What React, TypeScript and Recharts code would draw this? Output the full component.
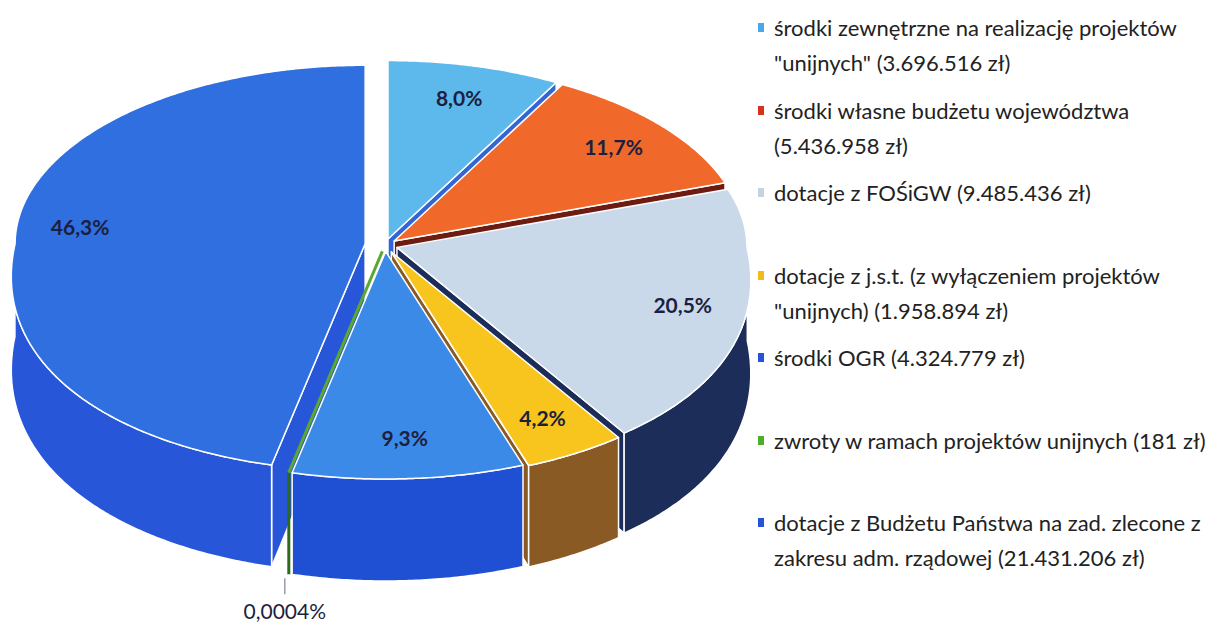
import { Legend, Pie, PieChart } from 'recharts';

const categories = [
  'środki zewnętrzne na realizację projektów "unijnych" (3.696.516 zł)',
  'środki własne budżetu województwa (5.436.958 zł)',
  'dotacje z FOŚiGW (9.485.436 zł)',
  'dotacje z j.s.t. (z wyłączeniem projektów "unijnych) (1.958.894 zł)',
  'środki OGR (4.324.779 zł)',
  'zwroty w ramach projektów unijnych (181 zł)',
  'dotacje z Budżetu Państwa na zad. zlecone z zakresu adm. rządowej (21.431.206 zł)',
];
const amounts = [3696516, 5436958, 9485436, 1958894, 4324779, 181, 21431206];

const topColors = ['#5db8ec', '#f0682a', '#cad9ea', '#f7c51e', '#3c8ae8', '#5aa832', '#2f6fe0'];
const sideColors = ['#3266d6', '#6e1c12', '#1d2d5a', '#8a5a24', '#1f4fd2', '#2d6a18', '#2757d8'];
const legendColors = ['#4aa8e8', '#d8321c', '#c4d2e2', '#f4b81a', '#2452d8', '#4caf2a', '#2452d8'];
const explode = [12, 12, 12, 12, 10, 10, 20];

const data = amounts.map((value, idx) => ({ name: categories[idx], value, idx, fill: topColors[idx] }));

// fake 3D: squashed ellipse, front a bit wider/deeper
const CX = 385;
const CY = 245;
const R = 350;
const K_UP = 0.51;
const K_DOWN = 0.65;
const SPREAD = 0.15;

const rad = (d: number) => (d * Math.PI) / 180;

function proj(r: number, deg: number): [number, number] {
  const s = Math.sin(rad(deg));
  const c = Math.cos(rad(deg));
  const front = s < 0 ? -s : 0;
  return [r * c * (1 + SPREAD * front), -r * s * (s > 0 ? K_UP : K_DOWN)];
}

const depth = (deg: number) => 92 + 10 * Math.max(0, -Math.sin(rad(deg)));

function sliceGeom(props: any) {
  const i = props.payload?.idx ?? props.idx ?? 0;
  const [ox, oy] = proj(explode[i], props.midAngle);
  const tx = props.cx + ox;
  const ty = props.cy + oy;
  const rim = (deg: number): [number, number] => {
    const [x, y] = proj(props.outerRadius, deg);
    return [tx + x, ty + y];
  };
  return { i, tx, ty, rim };
}

function arcAngles(a0: number, a1: number, step = 0.5) {
  const n = Math.max(1, Math.ceil(Math.abs(a1 - a0) / step));
  return Array.from({ length: n + 1 }, (_, k) => a0 + ((a1 - a0) * k) / n);
}

const isTiny = (p: any) => Math.abs(p.endAngle - p.startAngle) < 0.5;

function FaceShape(props: any) {
  if (isTiny(props)) return null;
  const { i, tx, ty, rim } = sliceGeom(props);
  const dir = Math.sign(props.endAngle - props.startAngle);
  const edges: [number, number][] = [
    [props.startAngle, props.startAngle - dir * 90],
    [props.endAngle, props.endAngle + dir * 90],
  ];
  return (
    <g>
      {edges
        .filter(([, n]) => Math.sin(rad(n)) < -0.02)
        .map(([a]) => {
          const [x, y] = rim(a);
          const d = `M${tx},${ty} L${x},${y} L${x},${y + depth(a)} L${tx},${ty + 95} Z`;
          return <path key={a} d={d} fill={sideColors[i]} stroke="#fff" strokeWidth={1.5} strokeLinejoin="round" />;
        })}
    </g>
  );
}

function WallShape(props: any) {
  const { i, rim } = sliceGeom(props);
  if (isTiny(props)) {
    const [x, y] = rim(props.midAngle);
    return <line x1={x} y1={y} x2={x} y2={y + depth(props.midAngle)} stroke={sideColors[i]} strokeWidth={3} />;
  }
  const angles = arcAngles(props.startAngle, props.endAngle).filter((a) => Math.sin(rad(a)) <= 0.0001);
  if (angles.length < 2) return null;
  const top = angles.map(rim);
  const bottom = angles.map((a, k) => [top[k][0], top[k][1] + depth(a)]).reverse();
  const d = 'M' + [...top, ...bottom].map((p) => `${p[0]},${p[1]}`).join(' L') + ' Z';
  return <path d={d} fill={sideColors[i]} stroke="#fff" strokeWidth={1.5} strokeLinejoin="round" />;
}

function TopShape(props: any) {
  const { i, tx, ty, rim } = sliceGeom(props);
  if (isTiny(props)) {
    const [x, y] = rim(props.midAngle);
    return <line x1={tx} y1={ty} x2={x} y2={y} stroke={topColors[i]} strokeWidth={3} />;
  }
  const pts = arcAngles(props.startAngle, props.endAngle).map(rim);
  const d = `M${tx},${ty} ` + pts.map((p) => `L${p[0]},${p[1]}`).join(' ') + ' Z';
  return <path d={d} fill={topColors[i]} stroke="#fff" strokeWidth={1.5} strokeLinejoin="round" />;
}

function formatPct(percent: number) {
  const pct = percent * 100;
  return (pct < 0.1 ? pct.toFixed(4) : pct.toFixed(1)).replace('.', ',') + '%';
}

function renderLabel(props: any) {
  const { tx, ty, rim } = sliceGeom(props);
  const text = formatPct(props.percent);
  if (isTiny(props)) {
    const [x, y] = rim(props.midAngle);
    const yb = y + depth(props.midAngle);
    return (
      <g>
        <line x1={x - 4} y1={yb + 4} x2={x - 4} y2={yb + 20} stroke="#9aa0a8" strokeWidth={1.5} />
        <text x={x - 4} y={yb + 36} textAnchor="middle" dominantBaseline="central" fontFamily="Lato" fontSize={21} fill="#1c1f3e">
          {text}
        </text>
      </g>
    );
  }
  const [dx, dy] = proj(props.outerRadius * 0.82, props.midAngle);
  return (
    <text x={tx + dx} y={ty + dy} textAnchor="middle" dominantBaseline="central" fontFamily="Lato" fontWeight={700} fontSize={21} fill="#1c1f3e">
      {text}
    </text>
  );
}

function LegendList() {
  return (
    <div style={{ width: 460, fontFamily: 'Lato', fontSize: 22, color: '#222', textAlign: 'left' }}>
      {categories.map((name, k) => (
        <div key={name} style={{ height: 82.5, display: 'flex', alignItems: 'flex-start' }}>
          <span style={{ width: 6, height: 9, background: legendColors[k], marginTop: 13, marginRight: 10, flex: 'none' }} />
          <span style={{ lineHeight: '35px' }}>{name}</span>
        </div>
      ))}
    </div>
  );
}

export default function App() {
  return (
    <div style={{ position: 'absolute', left: 0, top: 0, width: 1218, height: 625, background: '#fff' }}>
      <PieChart width={1218} height={625} margin={{ top: 0, right: 0, bottom: 0, left: 0 }}>
        <Pie data={data} dataKey="value" nameKey="name" cx={CX} cy={CY} outerRadius={R} startAngle={90} endAngle={-270}
          shape={FaceShape} legendType="none" isAnimationActive={false} />
        <Pie data={data} dataKey="value" nameKey="name" cx={CX} cy={CY} outerRadius={R} startAngle={90} endAngle={-270}
          shape={WallShape} legendType="none" isAnimationActive={false} />
        <Pie data={data} dataKey="value" nameKey="name" cx={CX} cy={CY} outerRadius={R} startAngle={90} endAngle={-270}
          shape={TopShape} label={renderLabel} labelLine={false} isAnimationActive={false} />
        <Legend content={LegendList} layout="vertical" verticalAlign="top" align="right"
          wrapperStyle={{ left: 758, top: 10, width: 460 }} />
      </PieChart>
    </div>
  );
}
